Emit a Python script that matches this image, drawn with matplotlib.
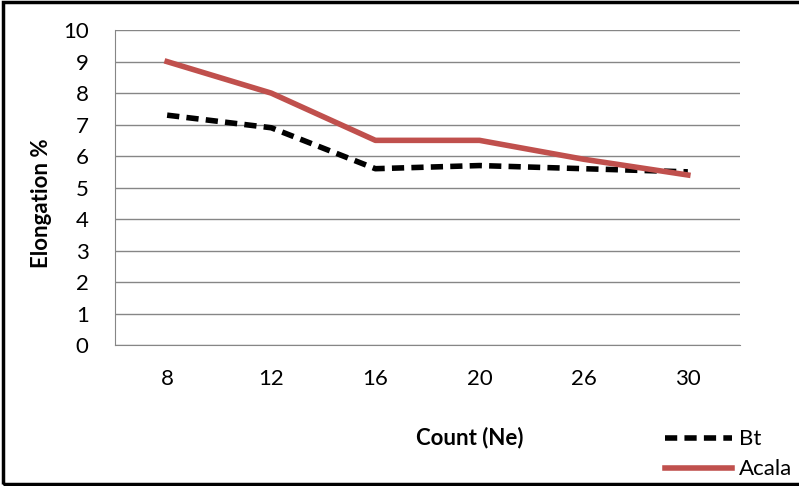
import matplotlib.pyplot as plt
from matplotlib.patches import Rectangle

# data
count = ['8', '12', '16', '20', '26', '30']
bt = [7.3, 6.9, 5.6, 5.7, 5.6, 5.5]
acala = [9.0, 8.0, 6.5, 6.5, 5.9, 5.4]

plt.rcParams['font.family'] = ['Lato', 'DejaVu Sans']

fig = plt.figure(figsize=(7.99, 4.86), dpi=100)
ax = fig.add_axes([0.144, 0.290, 0.782, 0.648])

x = range(len(count))
l1, = ax.plot(x, bt, color='black', linestyle=(0, (2.2, 1.3)), linewidth=4, label='Bt')
l2, = ax.plot(x, acala, color='#C0504D', linewidth=4, label='Acala')

ax.set_xlim(-0.5, len(count) - 0.5)
ax.set_ylim(0, 10)
ax.set_yticks(range(0, 11))
ax.set_xticks(list(x))
ax.set_xticklabels(count)
ax.tick_params(axis='x', length=0, pad=17, labelsize=16)
ax.tick_params(axis='y', length=0, pad=19, labelsize=16)
ax.grid(axis='y', color='#868686', linewidth=1)
ax.set_axisbelow(True)
for s in ['top', 'right']:
    ax.spines[s].set_visible(False)
for s in ['left', 'bottom']:
    ax.spines[s].set_color('#868686')

fig.text(0.052, 0.582, 'Elongation %', rotation=90, fontsize=16, fontweight='bold',
         ha='center', va='center')
fig.text(0.588, 0.10, 'Count (Ne)', fontsize=16, fontweight='bold', ha='center', va='center')

fig.legend(handles=[l1, l2], loc='lower left', bbox_to_anchor=(0.816, -0.014), frameon=False,
           fontsize=16, handlelength=3.0, handletextpad=0.3, labelspacing=0.45, borderaxespad=0.2)

fig.patches.append(Rectangle((0.004, 0.005), 1.2, 0.99, transform=fig.transFigure,
                             fill=False, edgecolor='black', linewidth=2.5))

plt.savefig('out.png', dpi=100)
